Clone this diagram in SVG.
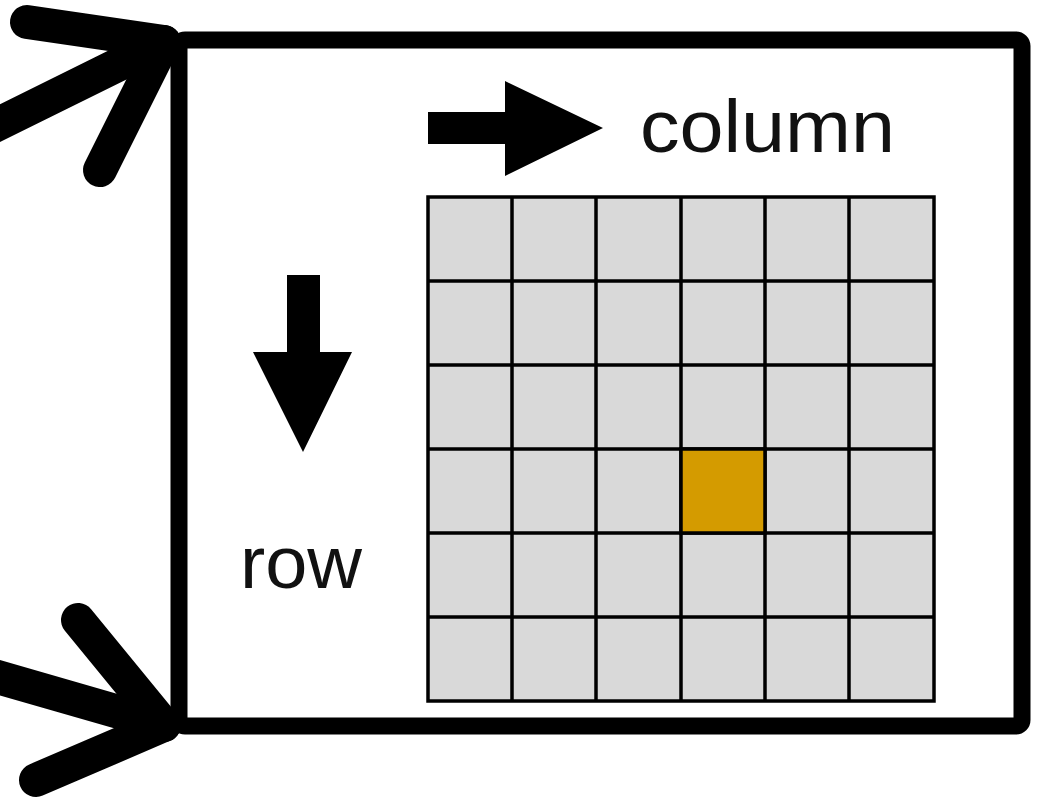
<svg xmlns="http://www.w3.org/2000/svg" width="1039" height="799" viewBox="0 0 1039 799">
<style>
.bigarrow{fill:none;stroke:#000;stroke-width:34;stroke-linecap:round;stroke-linejoin:round}
.cell{fill:#d9d9d9;stroke:#000;stroke-width:3.5}
.hl{fill:#d49b00;stroke:#000;stroke-width:3.5}
.lbl{font-family:"Liberation Sans",Arial,sans-serif;font-size:74px;fill:#111}
</style>
<rect width="1039" height="799" fill="#fff"/>
<g id="connectors">
<polyline class="bigarrow" points="-20,133 164,42"/>
<polyline class="bigarrow" points="27,22 164,42 100,170"/>
<polyline class="bigarrow" points="-20,672 164,725"/>
<polyline class="bigarrow" points="78,620 164,725 36,780"/>
</g>
<g id="frame">
<rect x="179" y="40" width="843" height="686" rx="6" fill="none" stroke="#000" stroke-width="17"/>
</g>
<g id="column-arrow">
<polygon points="428,112 505,112 505,81 603,128 505,176 505,144 428,144" fill="#000"/>
<text class="lbl" x="640" y="152" textLength="255" lengthAdjust="spacingAndGlyphs">column</text>
</g>
<g id="row-arrow">
<polygon points="287,275 320,275 320,352 352,352 303,452 253,352 287,352" fill="#000"/>
<text class="lbl" x="240" y="588" textLength="122" lengthAdjust="spacingAndGlyphs">row</text>
</g>
<g id="grid">
<rect class="cell" x="428" y="197" width="506" height="504"/>
<path d="M512,197V701M596,197V701M681,197V701M765,197V701M849,197V701M428,281H934M428,365H934M428,449H934M428,533H934M428,617H934" stroke="#000" stroke-width="3.5" fill="none"/>
<rect id="selected" class="hl" x="681" y="449" width="84" height="84"/>
</g>
</svg>
